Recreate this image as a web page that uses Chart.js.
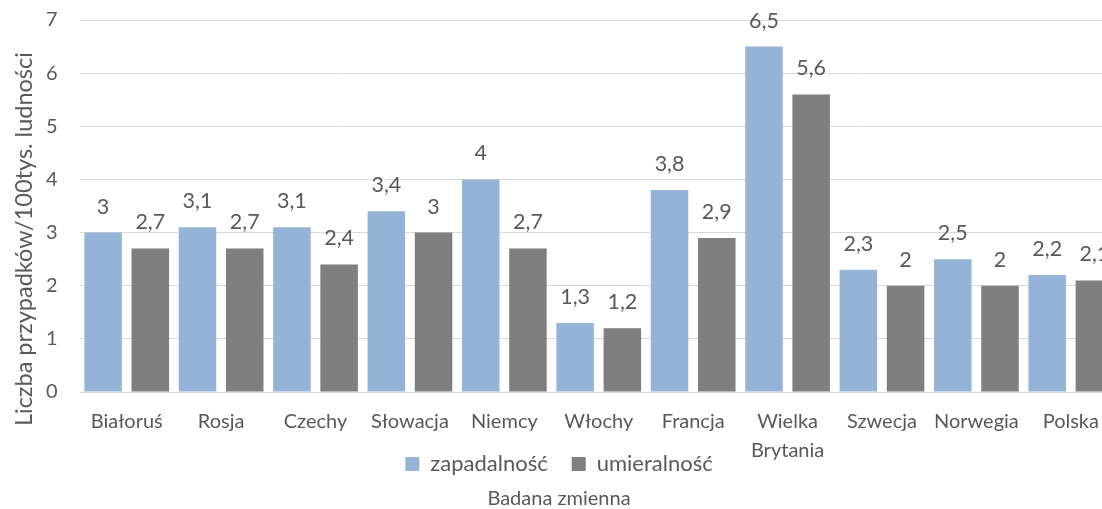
<!DOCTYPE html>
<html><head><meta charset="utf-8">
<script src="https://cdn.jsdelivr.net/npm/chart.js@4"></script>
<style>html,body{margin:0;padding:0;overflow:hidden;background:#fff}
#wrap{width:1134px;height:509px;position:relative}</style></head>
<body><div id="wrap"><canvas id="c"></canvas></div>
<script>
const categories = ['Białoruś','Rosja','Czechy','Słowacja','Niemcy','Włochy','Francja',['Wielka','Brytania'],'Szwecja','Norwegia','Polska'];
const zapadalnosc = [3, 3.1, 3.1, 3.4, 4, 1.3, 3.8, 6.5, 2.3, 2.5, 2.2];
const umieralnosc = [2.7, 2.7, 2.4, 3, 2.7, 1.2, 2.9, 5.6, 2, 2, 2.1];
const yTicks = [0, 1, 2, 3, 4, 5, 6, 7];
const seriesNames = ['zapadalność', 'umieralność'];
const yTitle = 'Liczba przypadków/100tys. ludności';
const xTitle = 'Badana zmienna';

const TEXT = '#595959';
Chart.defaults.font.family = 'Lato';
Chart.defaults.color = TEXT;

// trailing spaces shift the rotated axis title down (as in the original layout)
const mctx = document.createElement('canvas').getContext('2d');
mctx.font = '23.5px Lato';
const spW = mctx.measureText('\u00A0').width || 5;
const yTitleText = yTitle + '\u00A0'.repeat(Math.round(64 / spW));

const dataLabels = {
  id: 'dataLabels',
  afterDraw(chart) {
    const ctx = chart.ctx;
    ctx.save();
    ctx.font = '21.5px Lato';
    ctx.fillStyle = TEXT;
    ctx.textAlign = 'center';
    ctx.textBaseline = 'middle';
    chart.data.datasets.forEach((ds, i) => {
      chart.getDatasetMeta(i).data.forEach((bar, j) => {
        ctx.fillText(String(ds.data[j]).replace('.', ','), bar.x, bar.y - 26);
      });
    });
    ctx.restore();
  }
};

new Chart(document.getElementById('c'), {
  type: 'bar',
  data: {
    labels: categories,
    datasets: [
      { label: seriesNames[0], data: zapadalnosc, backgroundColor: '#95B3D7', borderWidth: 0,
        barPercentage: 0.795, categoryPercentage: 1.0 },
      { label: seriesNames[1], data: umieralnosc, backgroundColor: '#7F7F7F', borderWidth: 0,
        barPercentage: 0.795, categoryPercentage: 1.0 }
    ]
  },
  options: {
    responsive: true,
    maintainAspectRatio: false,
    devicePixelRatio: 1,
    animation: false,
    layout: { padding: { left: 0, right: 16, top: 20, bottom: 0 } },
    plugins: {
      tooltip: { enabled: false },
      legend: {
        position: 'bottom',
        labels: { boxWidth: 14, boxHeight: 14, font: { size: 22 }, color: TEXT, padding: 24 }
      },
      title: {
        display: true, text: xTitle, position: 'bottom',
        font: { size: 20, weight: 'normal' }, color: TEXT, padding: { top: 2, bottom: -2 }
      }
    },
    scales: {
      x: {
        grid: { display: false, drawTicks: false },
        border: { display: false },
        ticks: { font: { size: 20, lineHeight: 1.45 }, color: TEXT, padding: 15, maxRotation: 0, autoSkip: false },
        afterFit(scale) {
          scale.height = 37;
          scale._computeLabelArea = () => undefined;
        }
      },
      y: {
        min: 0, max: 7,
        z: 1,
        grid: { color: 'rgba(0,0,0,0.15)', drawTicks: false, lineWidth: 1 },
        border: { display: false },
        ticks: { font: { size: 20 }, color: TEXT, padding: 22 },
        afterBuildTicks(scale) { scale.ticks = yTicks.map(v => ({ value: v })); },
        title: { display: true, text: yTitleText, font: { size: 23.5 }, color: TEXT,
          padding: { top: 10, bottom: 0 } },
        afterFit(scale) {
          scale.width = 79.5;
          scale.paddingTop = 0;
          scale.paddingBottom = 0;
        }
      }
    }
  },
  plugins: [dataLabels]
});
</script></body></html>
